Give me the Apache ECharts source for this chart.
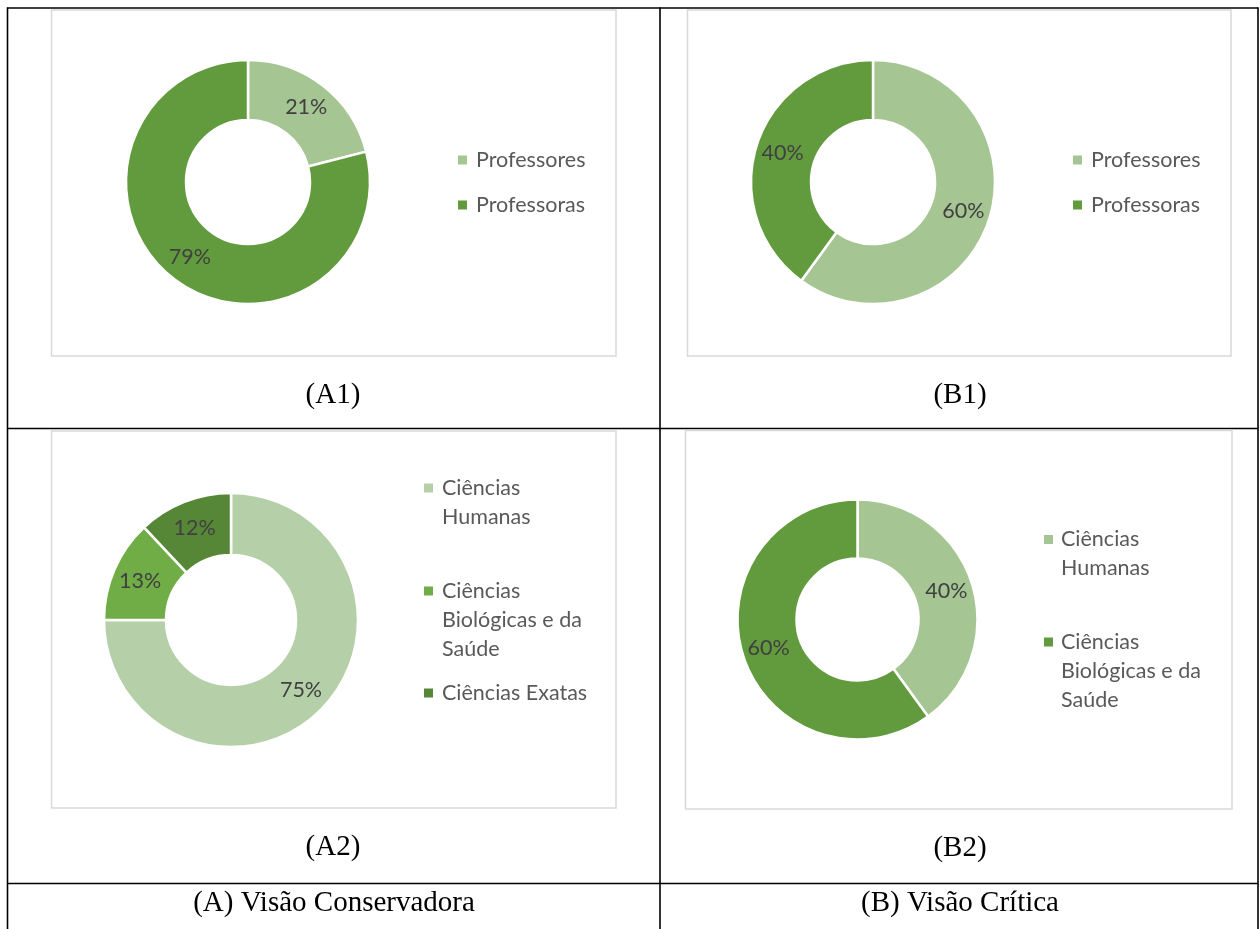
<!DOCTYPE html>
<html>
<head>
<meta charset="utf-8">
<script src="https://cdn.jsdelivr.net/npm/echarts@6/dist/echarts.min.js"></script>
<style>
html,body{margin:0;padding:0;background:#ffffff;}
#chart{width:1260px;height:929px;}
</style>
</head>
<body>
<div id="chart"></div>
<script>
// ---- data ----
const teacherCategories = ['Professores', 'Professoras'];
const a1Values = [21, 79];
const b1Values = [60, 40];
const areaCategories = ['Ciências Humanas', 'Ciências Biológicas e da Saúde', 'Ciências Exatas'];
const a2Values = [75, 13, 12];
const b2Categories = ['Ciências Humanas', 'Ciências Biológicas e da Saúde'];
const b2Values = [40, 60];
const panelCaptions = ['(A1)', '(B1)', '(A2)', '(B2)'];
const footerCaptions = ['(A) Visão Conservadora', '(B) Visão Crítica'];

// legend text wrapping as in the reference
const wrappedNames = {
  'Ciências Humanas': 'Ciências\nHumanas',
  'Ciências Biológicas e da Saúde': 'Ciências\nBiológicas e da\nSaúde'
};

const LH = 29;
const FS = 21.5;
const SANS = 'Lato, "Noto Sans", sans-serif';
const SERIF = '"Liberation Serif", "DejaVu Serif", serif';

const cLight = '#a5c593', cDark = '#629b3e';
const a2Colors = ['#b5d0a8', '#70ad47', '#568737'];

function pieSeries(names, values, colors, center, radius) {
  return {
    type: 'pie',
    center: center,
    radius: radius,
    startAngle: 90,
    clockwise: true,
    avoidLabelOverlap: false,
    animation: false,
    label: {
      show: true,
      position: 'inside',
      formatter: function (p) { return p.value + '%'; },
      color: '#404040',
      fontSize: FS,
      fontFamily: SANS
    },
    labelLine: { show: false },
    itemStyle: { borderColor: '#ffffff', borderWidth: 2.5 },
    emphasis: { disabled: true },
    data: names.map(function (n, i) {
      return { name: n, value: values[i], itemStyle: { color: colors[i] } };
    })
  };
}

function legendItem(name, color, left, firstLineY, padLeft) {
  const text = wrappedNames[name] || name;
  const n = text.split('\n').length;
  const h = n * LH;
  return {
    orient: 'vertical',
    left: left,
    top: firstLineY - LH / 2,
    padding: 0,
    itemGap: 0,
    itemWidth: 9,
    itemHeight: h,
    selectedMode: false,
    icon: 'path://M0,0M0,' + (LH / 2 - 4.5) + 'h9v9h-9zM9,' + h,
    data: [{ name: name, itemStyle: { color: color, borderWidth: 0 } }],
    formatter: function () { return text; },
    textStyle: {
      color: '#595959',
      fontSize: FS,
      fontFamily: SANS,
      lineHeight: LH,
      padding: [0, 0, 0, padLeft]
    }
  };
}

function hLine(x1, x2, y) {
  return { type: 'line', silent: true, shape: { x1: x1, y1: y, x2: x2, y2: y },
    style: { stroke: '#000000', lineWidth: 1.6 } };
}
function vLine(x, y1, y2) {
  return { type: 'line', silent: true, shape: { x1: x, y1: y1, x2: x, y2: y2 },
    style: { stroke: '#000000', lineWidth: 1.6 } };
}
function box(x1, y1, x2, y2) {
  return { type: 'rect', silent: true, shape: { x: x1, y: y1, width: x2 - x1, height: y2 - y1 },
    style: { fill: 'none', stroke: '#d9d9d9', lineWidth: 1.5 } };
}
function caption(text, x, y) {
  return { type: 'text', silent: true, x: x, y: y,
    style: { text: text, fill: '#000000', font: '29px ' + SERIF,
      textAlign: 'center', textVerticalAlign: 'middle' } };
}

const option = {
  backgroundColor: '#ffffff',
  animation: false,
  graphic: { elements: [
    // table lines
    hLine(7, 1258.5, 8),
    hLine(7, 1258.5, 428.5),
    hLine(7, 1258.5, 883.5),
    vLine(7.5, 7.5, 929),
    vLine(660, 7.5, 929),
    vLine(1258, 7.5, 929),
    // chart boxes
    box(51.5, 10, 616, 356),
    box(687.5, 10, 1231, 356),
    box(51.5, 431, 616, 808),
    box(685.5, 430.5, 1232, 809),
    // captions
    caption(panelCaptions[0], 333, 395),
    caption(panelCaptions[1], 960, 395),
    caption(panelCaptions[2], 333, 847),
    caption(panelCaptions[3], 960, 848),
    caption(footerCaptions[0], 334, 903),
    caption(footerCaptions[1], 960, 903)
  ] },
  legend: [
    legendItem(teacherCategories[0], cLight, 458, 160, 4),
    legendItem(teacherCategories[1], cDark, 458, 205, 4),
    legendItem(teacherCategories[0], cLight, 1073, 160, 4),
    legendItem(teacherCategories[1], cDark, 1073, 205, 4),
    legendItem(areaCategories[0], a2Colors[0], 424, 488, 4),
    legendItem(areaCategories[1], a2Colors[1], 424, 591, 4),
    legendItem(areaCategories[2], a2Colors[2], 424, 693, 4),
    legendItem(b2Categories[0], cLight, 1044, 539.5, 3),
    legendItem(b2Categories[1], cDark, 1044, 642, 3)
  ],
  series: [
    pieSeries(teacherCategories, a1Values, [cLight, cDark], [248, 182], [62, 122]),
    pieSeries(teacherCategories, b1Values, [cLight, cDark], [873, 182], [62, 122]),
    pieSeries(areaCategories, a2Values, a2Colors, [231, 620], [65, 127]),
    pieSeries(b2Categories, b2Values, [cLight, cDark], [857.5, 619.5], [61, 120])
  ]
};

const chart = echarts.init(document.getElementById('chart'), null, { renderer: 'canvas' });
chart.setOption(option);
</script>
</body>
</html>
